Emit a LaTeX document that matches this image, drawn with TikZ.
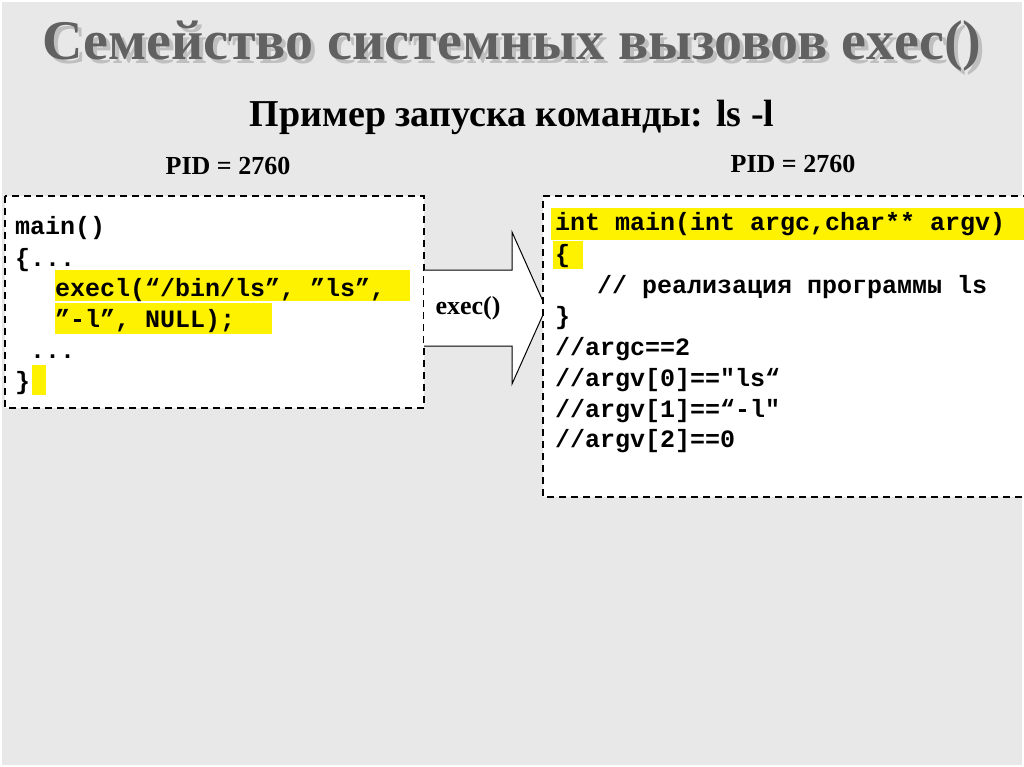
\documentclass[tikz,border=0pt]{standalone}
\usepackage{fontspec}
\setmainfont{Liberation Serif}
\newfontfamily\cmono{Liberation Mono}
\begin{document}
\begin{tikzpicture}[x=1pt,y=-1pt,
  code/.style={anchor=base west,inner sep=0pt,font=\cmono\bfseries\fontsize{25}{25}\selectfont},
  hl/.style={fill=yellow,draw=none},
  dbox/.style={draw=black,line width=2pt,dash pattern=on 7pt off 5pt}]
\useasboundingbox (0,0) rectangle (1024,767);
\fill[gray!18] (0,0) rectangle (1024,767);
\draw[white,line width=1.5pt] (1,1) rectangle (1023,766);
% title
\node[text=black!25,font=\bfseries\fontsize{56}{56}\selectfont] at (516,50) {Семейство системных вызовов exec()};
\node[text=black!62,font=\bfseries\fontsize{56}{56}\selectfont] (title) at (512,46) {Семейство системных вызовов exec()};
\node[font=\bfseries\fontsize{38}{38}\selectfont] (sub) at (512,117) {Пример запуска команды: ls -l};
\node[font=\bfseries\fontsize{26}{26}\selectfont] (pidl) at (228,166) {PID = 2760};
\node[font=\bfseries\fontsize{26}{26}\selectfont] (pidr) at (793,164) {PID = 2760};
% left box
\fill[white] (5,196) rectangle (424,408);
\draw[dbox] (5,196) rectangle (424,408);
\fill[hl] (55,270) rectangle (410,301);
\fill[hl] (55,303) rectangle (272,334);
\fill[hl] (32,365) rectangle (46,395);
\node[code] (l1) at (15,235) {main()};
\node[code] (l2) at (15,266) {\{...};
\node[code] (l3) at (55,296) {execl(“/bin/ls”, ”ls”,};
\node[code] (l4) at (55,327) {”-l”, NULL);};
\node[code] (l5) at (30,358) {...};
\node[code] (l6) at (15,389) {\}};
% arrow
\draw[fill=white,line width=1pt] (424,270) -- (512,270) -- (512,232) -- (546,308) -- (512,384) -- (512,346) -- (424,346);
\node[font=\bfseries\fontsize{26}{26}\selectfont] (ex) at (468,308) {exec()};
% right box
\fill[white] (543,196) rectangle (1024,497);
\draw[dbox] (1030,196) -- (543,196) -- (543,497) -- (1030,497);
\fill[hl] (551,208) rectangle (1024,240);
\fill[hl] (553,241) rectangle (583,269);
\node[code] (r1) at (555,231) {int main(int argc,char** argv)};
\node[code] (r2) at (555,262) {\{};
\node[code] (r3) at (597,293) {// реализация программы ls};
\node[code] (r4) at (555,324) {\}};
\node[code] (r5) at (555,355) {//argc==2};
\node[code] (r6) at (555,386) {//argv[0]=="ls“};
\node[code] (r7) at (555,417) {//argv[1]==“-l"};
\node[code] (r8) at (555,447) {//argv[2]==0};
\end{tikzpicture}
\end{document}
